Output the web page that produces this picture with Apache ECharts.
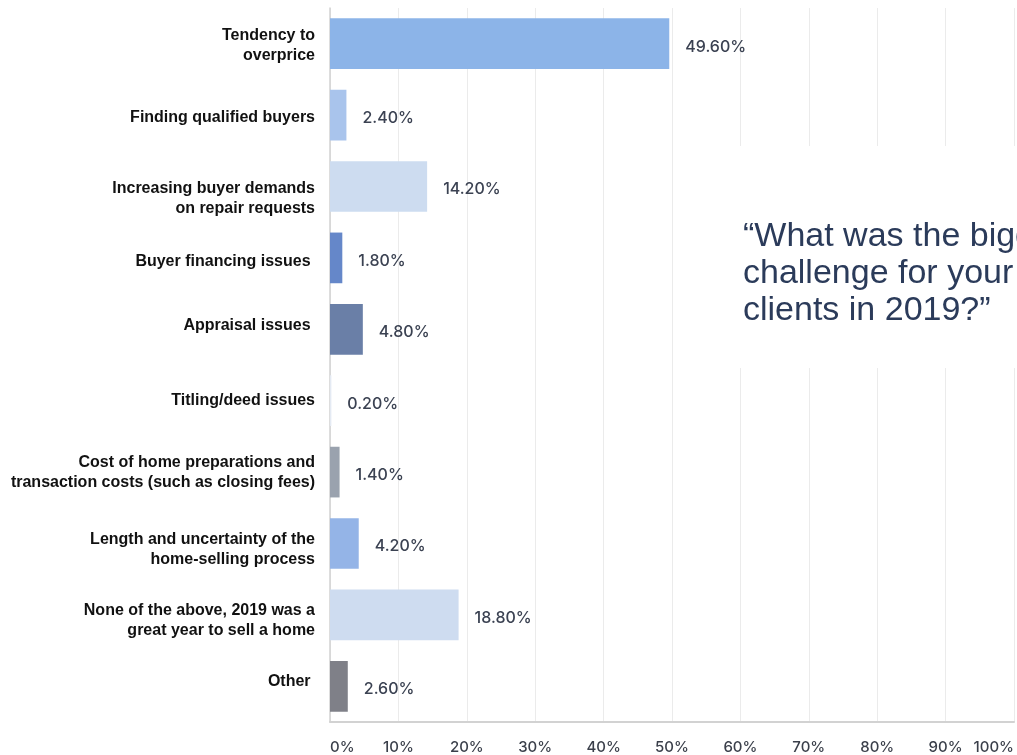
<!DOCTYPE html>
<html>
<head>
<meta charset="utf-8">
<style>
  html, body { margin: 0; padding: 0; background: #ffffff; }
  #chart { width: 1017px; height: 755px; }
</style>
<script src="https://cdn.jsdelivr.net/npm/echarts@6/dist/echarts.min.js"></script>
</head>
<body>
<div id="chart"></div>
<script>
// Survey answers, top to bottom
const categories = [
  'Tendency to\noverprice',
  'Finding qualified buyers',
  'Increasing buyer demands\non repair requests',
  'Buyer financing issues ',
  'Appraisal issues ',
  'Titling/deed issues',
  'Cost of home preparations and\ntransaction costs (such as closing fees)',
  'Length and uncertainty of the\nhome-selling process',
  'None of the above, 2019 was a\ngreat year to sell a home',
  'Other '
];

// Share of respondents, in percent
const shares = [49.6, 2.4, 14.2, 1.8, 4.8, 0.2, 1.4, 4.2, 18.8, 2.6];

// One fill per answer
const barColors = [
  '#8cb4e8', '#a9c4ec', '#cddcf0', '#6587c9', '#6a7fa7',
  '#e4eaf3', '#9aa2ae', '#94b4e7', '#cedcf0', '#7f8088'
];

// Vertical nudge of each answer's text relative to its bar (px, down is positive)
const labelShift = [2, 2, 12, 4, -4, 0, 0, 6, 6, -5];

// Percent ticks along the bottom
const tickValues = [0, 10, 20, 30, 40, 50, 60, 70, 80, 90, 100];

const questionLines = [
  '\u201cWhat was the biggest',
  'challenge for your',
  'clients in 2019?\u201d'
];

// An invisible spacer line above or below a label moves it by half its height
const spacerStyles = {};
labelShift.forEach((d, i) => {
  spacerStyles['g' + i] = { fontSize: 1, lineHeight: Math.max(1, 2 * Math.abs(d)) };
});

function categoryLabel(value, index) {
  const d = labelShift[index];
  if (d > 0) return '{g' + index + '| }\n' + value;
  if (d < 0) return value + '\n{g' + index + '| }';
  return value;
}

const chart = echarts.init(document.getElementById('chart'), null, { renderer: 'canvas' });

chart.setOption({
  animation: false,
  backgroundColor: '#ffffff',
  grid: { left: 330, right: 1, top: 8, bottom: 33, containLabel: false },
  xAxis: {
    type: 'value',
    min: tickValues[0],
    max: tickValues[tickValues.length - 1],
    interval: tickValues[1] - tickValues[0],
    axisLine: { show: true, lineStyle: { color: '#d2d2d2', width: 2 } },
    axisTick: { show: false },
    splitLine: { show: true, lineStyle: { color: '#ebebeb', width: 1 } },
    axisLabel: {
      margin: 18,
      fontFamily: 'Inter',
      fontSize: 15,
      fontWeight: 500,
      color: '#3a3f4a',
      alignMinLabel: 'left',
      alignMaxLabel: 'right',
      formatter: v => v + '%'
    }
  },
  yAxis: {
    type: 'category',
    inverse: true,
    data: categories,
    axisLine: { show: true, lineStyle: { color: '#d2d2d2', width: 1.5 } },
    axisTick: { show: false },
    splitLine: { show: false },
    axisLabel: {
      margin: 15,
      fontFamily: 'Liberation Sans',
      fontSize: 16,
      fontWeight: 'bold',
      color: '#111111',
      lineHeight: 20,
      align: 'right',
      formatter: categoryLabel,
      rich: spacerStyles
    }
  },
  series: [{
    type: 'bar',
    barCategoryGap: '29%',
    data: shares.map((v, i) => ({ value: v, itemStyle: { color: barColors[i] } })),
    label: {
      show: true,
      position: 'right',
      distance: 16,
      offset: [0, 3],
      fontFamily: 'Inter',
      fontSize: 16,
      fontWeight: 500,
      color: '#3b4252',
      formatter: p => p.value.toFixed(2) + '%'
    }
  }],
  graphic: [
    {
      type: 'rect',
      left: 700,
      top: 146,
      shape: { width: 330, height: 222 },
      style: { fill: '#ffffff' },
      z: 100
    },
    {
      type: 'text',
      left: 743,
      top: 218,
      z: 101,
      style: {
        text: questionLines.join('\n'),
        fontFamily: 'Liberation Sans',
        fontSize: 34,
        lineHeight: 37,
        fill: '#2b3b5a'
      }
    }
  ]
});
</script>
</body>
</html>
